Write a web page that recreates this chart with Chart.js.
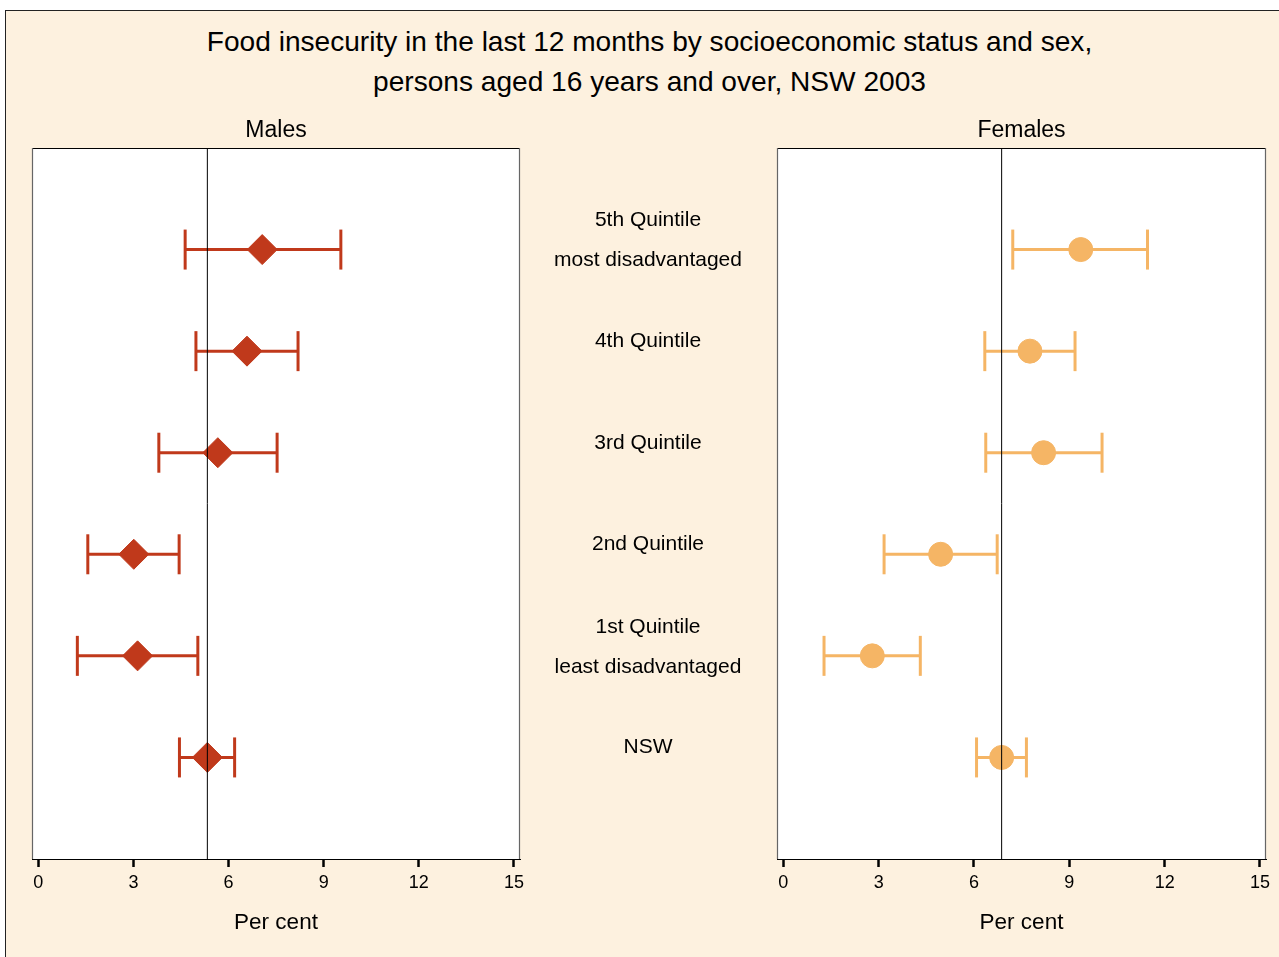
<!DOCTYPE html>
<html>
<head>
<meta charset="utf-8">
<title>Food insecurity by socioeconomic status and sex, NSW 2003</title>
<script src="https://cdn.jsdelivr.net/npm/chart.js@4.4.1/dist/chart.umd.min.js"></script>
<style>
  html, body { margin: 0; padding: 0; background: #ffffff; overflow: hidden; }
  body { width: 1279px; height: 957px; position: relative; font-family: "Liberation Sans", Arial, sans-serif; }
  #frame { position: absolute; left: 5px; top: 10px; width: 1300px; height: 1000px;
           border: 1.5px solid #222; background: #fdf1df; box-sizing: border-box; }
  #mainTitle { position: absolute; left: 0; top: 22px; width: 1299px; text-align: center;
               font-size: 28.1px; line-height: 40px; color: #000; }
  canvas { position: absolute; left: 0; top: 0; }
</style>
</head>
<body>
<div id="frame"></div>
<div id="mainTitle">Food insecurity in the last 12 months by socioeconomic status and sex,<br>persons aged 16 years and over, NSW 2003</div>
<canvas id="males" width="1330" height="957"></canvas>
<canvas id="females" width="1330" height="957"></canvas>
<script>
// Rows, top to bottom
const categoryLines = [
  ['5th Quintile', 'most disadvantaged'],
  ['4th Quintile'],
  ['3rd Quintile'],
  ['2nd Quintile'],
  ['1st Quintile', 'least disadvantaged'],
  ['NSW']
];

// Males: estimate and 95% confidence interval (per cent)
const maleEstimate = [7.06, 6.58, 5.66, 3.01, 3.13, 5.33];
const maleLower    = [4.63, 4.97, 3.80, 1.56, 1.23, 4.45];
const maleUpper    = [9.54, 8.19, 7.53, 4.44, 5.03, 6.19];

// Females: estimate and 95% confidence interval (per cent)
const femaleEstimate = [9.36, 7.76, 8.19, 4.95, 2.80, 6.87];
const femaleLower    = [7.22, 6.34, 6.37, 3.17, 1.28, 6.08];
const femaleUpper    = [11.46, 9.18, 10.03, 6.73, 4.31, 7.65];

const xTicks = [0, 3, 6, 9, 12, 15];

const MALE_COLOR = '#c0391b';
const FEMALE_COLOR = '#f5b565';
const FONT = '"Liberation Sans", Arial, sans-serif';
const CANVAS_W = 1330;

Chart.defaults.font.family = FONT;
Chart.defaults.color = '#000';

const rowCount = categoryLines.length;
const rowValue = i => rowCount - i;

// White plotting area with a thin frame
const panelBox = {
  id: 'panelBox',
  beforeDraw(chart) {
    const a = chart.chartArea, ctx = chart.ctx;
    ctx.save();
    ctx.fillStyle = '#ffffff';
    ctx.fillRect(a.left, a.top, a.right - a.left, a.bottom - a.top);
    ctx.restore();
  },
  afterDraw(chart) {
    const a = chart.chartArea, ctx = chart.ctx;
    ctx.save();
    ctx.strokeStyle = '#000';
    ctx.lineWidth = 1;
    ctx.strokeRect(a.left + 0.5, a.top + 0.5, a.right - a.left - 1, a.bottom - a.top);
    ctx.strokeStyle = '#666';
    ctx.lineWidth = 1.2;
    ctx.beginPath();
    ctx.moveTo(a.left + 0.5, a.top); ctx.lineTo(a.left + 0.5, a.bottom);
    ctx.moveTo(a.right - 0.5, a.top); ctx.lineTo(a.right - 0.5, a.bottom);
    ctx.stroke();
    ctx.restore();
  }
};

// Category names between the two panels, placed on the rows of the y scale
const rowLabels = {
  id: 'rowLabels',
  afterDraw(chart, args, opts) {
    const ctx = chart.ctx, y = chart.scales.y;
    ctx.save();
    ctx.font = '21px ' + FONT;
    ctx.fillStyle = '#000';
    ctx.textAlign = 'center';
    ctx.textBaseline = 'middle';
    categoryLines.forEach((lines, i) => {
      const py = y.getPixelForValue(rowValue(i));
      if (lines.length === 1) {
        ctx.fillText(lines[0], opts.x, py - 10);
      } else {
        lines.forEach((t, k) => ctx.fillText(t, opts.x, py - 29 + k * 40));
      }
    });
    ctx.restore();
  }
};

function panelDatasets(est, lo, hi, color, style, radius) {
  const sets = [];
  est.forEach((v, i) => {
    sets.push({
      data: [{ x: lo[i], y: rowValue(i) }, { x: hi[i], y: rowValue(i) }],
      showLine: true,
      borderColor: color,
      borderWidth: 3,
      pointStyle: 'line',
      pointRotation: 90,
      pointRadius: 20,
      pointBorderWidth: 3,
      pointBorderColor: color,
      order: 2
    });
  });
  sets.push({
    data: est.map((v, i) => ({ x: v, y: rowValue(i) })),
    pointStyle: style,
    pointRadius: radius,
    backgroundColor: color,
    borderColor: color,
    pointBorderWidth: 1,
    order: 1
  });
  // Vertical reference line at the NSW estimate
  const nsw = est[est.length - 1];
  sets.push({
    data: [{ x: nsw, y: 0 }, { x: nsw, y: rowCount + 1 }],
    showLine: true,
    borderColor: '#000',
    borderWidth: 1,
    pointRadius: 0,
    order: 0
  });
  return sets;
}

function panelOptions(title, padLeft, padRight, extra) {
  return {
    responsive: false,
    animation: false,
    layout: { padding: { left: padLeft, right: padRight, top: 110, bottom: 0 } },
    plugins: Object.assign({
      legend: { display: false },
      tooltip: { enabled: false },
      title: { display: true, text: title, font: { size: 23, weight: 'normal' }, color: '#000',
               padding: { top: 7, bottom: 3.4 } }
    }, extra || {}),
    scales: {
      x: {
        type: 'linear',
        min: -0.2,
        max: 15.19,
        afterBuildTicks: s => { s.ticks = xTicks.map(v => ({ value: v })); },
        afterFit: s => { s.height = 98; },
        ticks: { font: { size: 18 }, color: '#000', padding: 5.5 },
        grid: { drawOnChartArea: false, drawTicks: true, tickLength: 8, tickWidth: 2.5, tickColor: '#000' },
        border: { display: true, color: '#000', width: 1 },
        title: { display: true, text: 'Per cent', font: { size: 22.5 }, color: '#000',
                 padding: { top: 0, bottom: 21 } }
      },
      y: { type: 'linear', display: false, min: 0, max: rowCount + 1 }
    }
  };
}

new Chart(document.getElementById('males'), {
  type: 'scatter',
  data: { datasets: panelDatasets(maleEstimate, maleLower, maleUpper, MALE_COLOR, 'rectRot', 15) },
  options: panelOptions('Males', 32, CANVAS_W - 520, { rowLabels: { x: 648 } }),
  plugins: [panelBox, rowLabels]
});

new Chart(document.getElementById('females'), {
  type: 'scatter',
  data: { datasets: panelDatasets(femaleEstimate, femaleLower, femaleUpper, FEMALE_COLOR, 'circle', 12) },
  options: panelOptions('Females', 777, CANVAS_W - 1266),
  plugins: [panelBox]
});
</script>
</body>
</html>
